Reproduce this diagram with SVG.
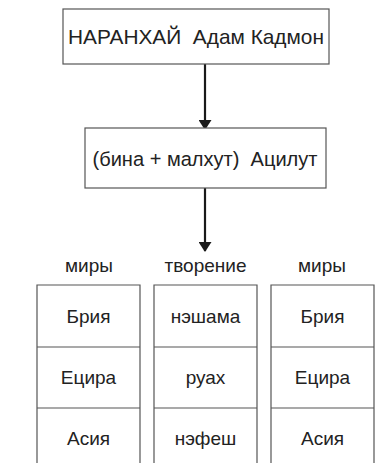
<svg xmlns="http://www.w3.org/2000/svg" width="391" height="467" viewBox="0 0 391 467">
<defs>
<marker id="ah" markerWidth="10" markerHeight="13" refX="9" refY="6.5" orient="auto" markerUnits="userSpaceOnUse">
<path d="M0,0 L10,6.5 L0,13 Z" fill="#1a1a1a"/>
</marker>
</defs>
<style>
.box{fill:#fff;stroke:#555;stroke-width:1.2}
.col{fill:none;stroke:#555;stroke-width:1.2}
.t{font-family:"Liberation Sans",Arial,sans-serif;font-size:19px;fill:#222;text-anchor:middle}
.arr{stroke:#1a1a1a;stroke-width:2.2;fill:none}
</style>
<rect width="391" height="467" fill="#fff"/>
<g id="connectors">
<line class="arr" x1="205" y1="64" x2="205" y2="129" marker-end="url(#ah)"/>
<line class="arr" x1="205" y1="188" x2="205" y2="251" marker-end="url(#ah)"/>
</g>
<g id="adam-kadmon">
<rect class="box" x="63" y="9" width="266" height="55"/>
<text class="t" x="196" y="44" style="font-size:21px" textLength="256" lengthAdjust="spacingAndGlyphs" xml:space="preserve">НАРАНХАЙ  Адам Кадмон</text>
</g>
<g id="aciluth">
<rect class="box" x="85" y="128" width="241" height="60"/>
<text class="t" x="205" y="166" style="font-size:20.5px" textLength="225" lengthAdjust="spacingAndGlyphs" xml:space="preserve">(бина + малхут)  Ацилут</text>
</g>
<g id="label-left"><text class="t" x="89" y="272">миры</text></g>
<g id="label-mid"><text class="t" x="205.5" y="272">творение</text></g>
<g id="label-right"><text class="t" x="322" y="272">миры</text></g>
<g id="col-left">
<path class="col" d="M37,463 V285 H140 V463 M37,347 H140 M37,408 H140"/>
<text class="t" x="88.5" y="323">Брия</text>
<text class="t" x="88.5" y="384">Ецира</text>
<text class="t" x="88.5" y="445">Асия</text>
</g>
<g id="col-mid">
<path class="col" d="M154,463 V285 H257 V463 M154,347 H257 M154,408 H257"/>
<text class="t" x="205.5" y="323">нэшама</text>
<text class="t" x="205.5" y="384">руах</text>
<text class="t" x="205.5" y="445">нэфеш</text>
</g>
<g id="col-right">
<path class="col" d="M271,463 V285 H374 V463 M271,347 H374 M271,408 H374"/>
<text class="t" x="322.5" y="323">Брия</text>
<text class="t" x="322.5" y="384">Ецира</text>
<text class="t" x="322.5" y="445">Асия</text>
</g>
</svg>
